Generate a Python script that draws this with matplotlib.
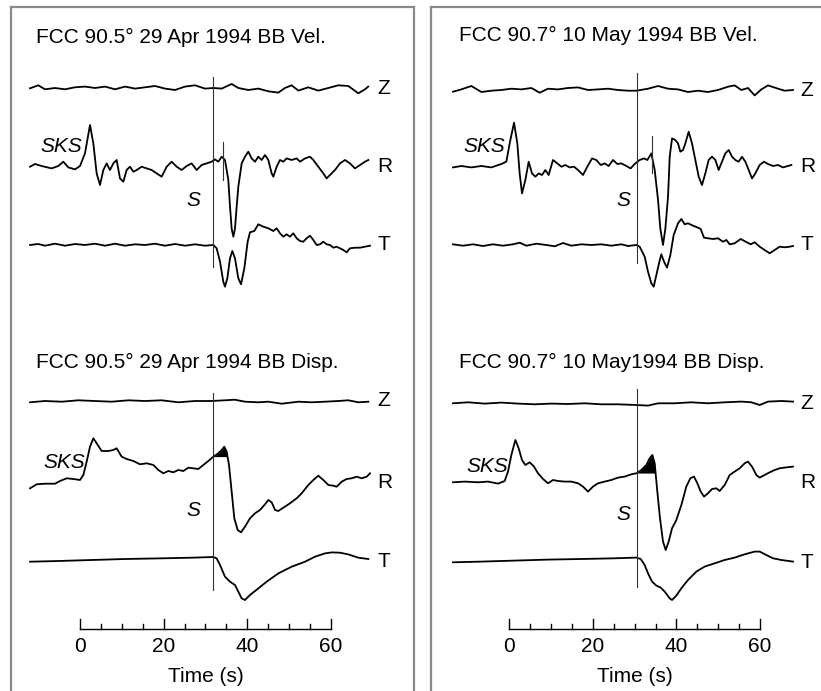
import numpy as np
import matplotlib
matplotlib.use("Agg")
import matplotlib.pyplot as plt

plt.rcParams['font.family'] = ['Liberation Sans', 'DejaVu Sans']

# ---- data: time (s) and amplitude (arbitrary, up = +) ----
# left column, 29 Apr 1994, velocity
lv_z_t = [-11.95, -9.96, -8.37, -5.98, -3.59, -1.2, 1.19, 3.58, 5.98, 8.37, 10.76, 13.15, 15.54,
          17.93, 20.32, 22.71, 25.1, 27.49, 29.88, 31.87, 33.87, 36.26, 37.85, 40.24, 42.63, 45.02,
          47.41, 49.0, 50.6, 52.19, 54.58, 56.97, 59.36, 61.75, 64.14, 66.54, 68.13, 68.9]
lv_z_a = [0, 3, -1, 0.3, -1, 1, 1.7, 0.3, 1.7, -1, 1.7, -0.3, 1, 2.3, -0.3, -1.7, 1.7, 3, -0.3, 0.3,
          -0.3, 4.3, 0.3, -1.7, -0.3, -3, -4.3, 0.3, 3, -2.3, 1, -2.3, 0.3, 3, 2.3, -5, -1, 1.7]
lv_r_t = [-11.95, -10.76, -9.17, -6.78, -5.18, -3.99, -2.79, -1.2, 0.0, 1.19, 2.39, 3.19, 3.98, 4.78,
          5.58, 6.37, 7.17, 7.97, 8.76, 9.56, 10.36, 11.15, 11.95, 12.75, 13.55, 14.74, 15.94, 17.13,
          18.33, 19.52, 20.72, 21.91, 23.11, 24.3, 25.5, 26.69, 27.89, 29.08, 30.28, 31.47, 32.27,
          33.07, 33.87, 34.66, 35.46, 35.86, 36.26, 36.66, 37.05, 37.45, 37.85, 38.65, 39.44, 40.24,
          41.04, 41.83, 42.63, 43.43, 44.22, 45.02, 45.82, 46.22, 47.01, 47.81, 48.61, 49.4, 50.6,
          51.8, 52.59, 53.79, 54.98, 55.78, 56.97, 58.17, 58.97, 59.76, 60.96, 62.15, 63.35, 64.55,
          65.74, 66.94, 68.13, 68.93]
lv_r_a = [0, 2.7, 0.7, -1.7, 0.7, 5, -0.7, -2.7, 0.7, 13.3, 41.7, 23.3, -6.7, -18.3, -3.3, 3.3, -3.3,
          3.3, 6.7, -11.7, -15, -3.3, 0, -5, -3.3, 0, -1.7, -3.3, -6.7, -10, 0, 5, 0, -3.3, 0.7, 3.3,
          -3.3, 1.7, 3.3, 5, 7.3, 5, 10, 6.7, -13.3, -40, -62, -70, -62, -40, -20, 3.3, 10, 15, 8.3,
          5, 10, 6.7, 11.7, 6.7, -6.7, -10, 0, 6.7, 5, 8.3, 6.7, 8.3, 5, 8.3, 10, 6.7, 0, -6.7, -11.7,
          -8.3, -3.3, 3.3, 6.7, 3.3, -1.7, 1.7, 5, 6.7]
lv_t_t = [-11.95, -9.96, -8.37, -5.98, -3.59, -1.2, 1.19, 3.58, 5.98, 8.37, 10.76, 13.15, 15.54,
          17.93, 20.32, 22.71, 25.1, 27.49, 29.88, 31.87, 32.67, 33.47, 34.26, 34.66, 35.22, 35.86,
          36.42, 37.05, 37.85, 38.49, 39.28, 40.08, 40.64, 41.67, 42.63, 43.83, 45.02, 46.22, 47.01,
          47.81, 48.61, 49.4, 50.2, 50.99, 51.8, 52.59, 53.39, 54.18, 54.98, 55.78, 56.58, 57.37,
          58.17, 58.97, 59.76, 60.56, 61.36, 62.15, 62.95, 63.75, 64.55, 65.74, 66.94, 68.13, 69.33]
lv_t_a = [0, 1, -0.7, 1.3, -0.7, 1, 0, 1.3, -0.7, 1.3, -0.7, 0.7, 0, 1.3, -0.7, 1, -0.7, 0.7, -0.7,
          0, -3.3, -16.7, -36.7, -41.7, -33.3, -13.3, -6, -13.3, -33.3, -39.3, -23.3, 3.3, 12.7, 14,
          20.7, 18.3, 16.7, 14, 16.7, 11.7, 8.3, 10.7, 8.3, 11.7, 6.7, 4, 3.3, 6.7, 9.3, 5, 0, 0.7,
          3.3, 0.7, 0, -2.7, -1.7, -3.3, -5, -7.3, -3.3, -2.7, -2.7, -1.7, -0.7]

# left column, displacement
ld_z_t = [-11.95, -8.37, -4.38, -0.4, 3.58, 7.57, 11.55, 15.54, 19.52, 23.51, 27.49, 31.47, 34.66,
          37.05, 39.44, 42.63, 45.02, 48.21, 52.19, 55.38, 58.57, 61.75, 64.14, 66.54, 68.93]
ld_z_a = [-1.3, 0, -0.7, 0.7, 0, -0.7, 0.7, 0, 0.7, -1.3, 0, 0, 0.7, 1.3, -0.7, -1.3, -0.7, -2.7,
          -0.7, -1.3, -0.7, 0, 0.7, -1.3, -0.7]
ld_r_t = [-11.95, -10.36, -8.37, -5.98, -4.78, -3.19, -1.6, 0.0, 0.8, 1.59, 2.39, 3.19, 3.98, 5.18,
          6.77, 7.97, 8.76, 9.96, 11.15, 12.75, 14.34, 15.94, 17.53, 18.72, 19.92, 21.12, 22.31,
          23.51, 24.7, 25.9, 27.09, 28.29, 29.48, 30.68, 31.87, 33.07, 33.87, 34.5, 35.06, 35.62,
          36.26, 36.89, 37.69, 38.49, 39.44, 40.64, 41.83, 43.03, 44.22, 45.02, 45.82, 46.62, 47.41,
          48.61, 50.2, 51.8, 52.99, 54.58, 55.78, 56.97, 58.17, 59.37, 60.56, 61.36, 62.55, 63.75,
          64.94, 66.14, 67.34, 68.53, 69.33]
ld_r_a = [-5.3, -1.3, -0.7, -0.7, 2, 4.7, 4, 3, 8, 21.3, 36.3, 44.7, 39.7, 32, 32, 33, 34.7, 26.3, 24,
          22, 18.7, 19.7, 18, 13, 9.7, 12, 10.7, 13, 12, 15.3, 14.7, 14, 18, 22, 26.3, 29.7, 33,
          36.3, 31.3, 18, -8.7, -35.3, -47, -49.3, -43.7, -35.3, -30.3, -27, -21.3, -17, -19.3, -27,
          -28, -24.7, -20.3, -15.3, -10.3, -2, 3, 7.3, 3, -2, -2.7, -3.7, 1.3, 4, 4.7, 6.3, 4.7, 6.3,
          9.7]
ld_t_t = [-11.95, -5.18, 2.79, 10.76, 18.72, 26.69, 31.87, 32.67, 33.47, 34.66, 35.86, 37.05, 37.85,
          38.65, 39.44, 40.64, 42.63, 44.62, 47.41, 50.6, 53.79, 56.18, 58.57, 60.16, 62.15, 64.14,
          66.54, 68.93]
ld_t_a = [0, 0.7, 1.7, 2.7, 3.3, 4, 4.7, 3.3, -3.3, -15, -20, -23.3, -30, -36.7, -38.3, -33.3, -26.7,
          -20, -11.7, -5, 0, 5, 8.3, 9.3, 9, 7.3, 4, 2.7]

# right column, 10 May 1994, velocity
rv_z_t = [-13.47, -11.48, -9.08, -6.69, -4.3, -1.9, 0.49, 2.88, 5.28, 7.27, 9.27, 11.66, 14.05,
          16.45, 18.84, 21.23, 23.63, 26.02, 28.41, 30.41, 33.2, 35.6, 37.99, 40.38, 42.77, 45.17,
          47.56, 49.95, 52.35, 53.94, 55.54, 57.13, 58.73, 60.33, 61.92, 64.32, 65.91, 67.9]
rv_z_a = [-1, 1.3, 4.7, -1.3, 0, 0.7, 2, 1.3, 2.7, -2, 2, 1.3, 2.7, 3.3, 0.7, 1.3, 2, 0.7, 0, 0, 2,
          4.7, 2, 1.3, -1.3, 0, -1.3, 0.7, 4, 5.3, 0.7, 2.7, -4.7, 1.3, 5.3, 2, 0, 0.7]
rv_r_t = [-13.47, -11.48, -9.08, -6.69, -4.3, -1.9, -0.71, 0.09, 1.13, 1.92, 2.48, 3.04, 3.84, 4.64,
          5.44, 6.23, 7.03, 7.83, 8.63, 9.42, 10.46, 11.5, 12.46, 13.41, 14.45, 15.49, 16.45, 17.64,
          18.68, 19.8, 20.83, 21.87, 22.83, 23.79, 24.82, 25.86, 26.82, 28.01, 29.05, 30.01, 31.2,
          32.24, 33.04, 34.0, 34.8, 35.6, 36.15, 36.79, 37.35, 37.99, 38.39, 38.95, 39.74, 40.38,
          40.94, 41.58, 42.13, 42.93, 43.73, 44.53, 45.33, 46.12, 46.92, 47.72, 48.52, 49.32, 50.11,
          50.91, 51.71, 52.51, 53.31, 54.1, 54.9, 55.7, 56.5, 57.3, 58.09, 58.89, 59.93, 60.96, 61.92,
          63.12, 64.32, 65.51, 66.71, 67.51]
rv_r_a = [-0.7, 0.7, -0.7, 0.7, -0.7, 2.7, 5, 23.3, 44, 23.3, -6.7, -26.7, -13.3, 5, -6.7, -10, -6.7,
          -8.3, -3.3, -8.3, 6.7, 3.3, 0, 1.7, -0.7, 0, -3.3, -8.3, 0, 8.3, 6.7, 1.7, 3.3, 0.7, 6.7,
          2.7, 3.3, 0.7, -1.7, 2.7, 6.7, 8.3, 6.7, 13.3, -3.3, -33.3, -62, -78.3, -62, -30, 10, 28.3,
          26.7, 23.3, 15, 16.7, 23.3, 35, 23.3, 6.7, -10, -18.3, -6.7, 6.7, 10, 6.7, -3.3, 5, 13.3,
          16.7, 10, 6.7, 5, 10, 5, -3.3, -11.7, -6.7, 1.7, 5, 2.7, 0.7, 1.7, -0.7, 0.7, 1.7]
rv_t_t = [-13.47, -11.08, -8.69, -6.29, -3.9, -1.51, 0.89, 2.48, 4.08, 6.47, 8.87, 10.86, 12.86,
          14.85, 17.24, 19.64, 22.03, 24.42, 26.82, 28.41, 30.41, 31.2, 32.4, 33.2, 34.0, 34.56, 35.2,
          35.83, 36.39, 37.03, 37.75, 38.55, 39.34, 40.38, 41.18, 41.98, 42.77, 43.97, 45.17, 45.81,
          46.6, 47.56, 48.76, 49.95, 51.15, 51.95, 52.75, 53.94, 55.38, 56.58, 57.77, 58.73, 59.93,
          61.12, 62.32, 63.52, 64.71, 65.91, 67.11, 67.9]
rv_t_a = [0.7, -0.7, 0.7, -1, 0.7, -0.7, 0.7, 2.3, -0.7, 1.3, 0, -1.3, 2, -0.7, 0.7, 0, 0.7, -0.7,
          0.7, -1, 0, -1.7, -11.7, -26.7, -38.3, -41.7, -30, -18.3, -9.3, -16.7, -22.7, -10, 10, 21.7,
          26, 20.7, 21.7, 19.3, 17.3, 16, 7.3, 6.7, 6, 6.7, 3.3, 5, 0.7, 1.7, 6, 3.3, 0.7, 2.7, -1.7,
          -5, -8.3, -5, -1.7, -2.3, -1.7, -1]

# right column, displacement
rd_z_t = [-13.47, -9.88, -5.89, -1.9, 2.08, 6.07, 10.06, 14.05, 18.04, 22.03, 26.02, 30.41, 33.2,
          35.6, 39.58, 43.57, 47.56, 51.55, 55.54, 57.93, 59.93, 61.92, 65.11, 67.9]
rd_z_a = [0, 1, -0.3, 0.7, -0.3, -1, -0.3, -0.7, 0, -1, -1, -1.7, -2.3, 0, 0, 1, 0, 1, 1.7, 1, -1.7,
          1.7, 2.3, 1.7]
rd_r_t = [-13.47, -10.68, -7.49, -5.1, -2.7, -1.11, -0.31, 0.49, 1.45, 2.24, 3.04, 3.84, 4.88, 5.91,
          6.87, 8.07, 9.27, 10.46, 11.66, 13.25, 14.85, 16.45, 17.64, 18.84, 20.03, 21.23, 22.83,
          24.42, 26.02, 27.62, 29.21, 30.41, 31.6, 32.8, 33.6, 34.24, 34.8, 35.43, 36.07, 36.79,
          37.43, 38.15, 38.95, 39.98, 41.18, 42.37, 43.33, 44.21, 45.01, 45.81, 46.6, 47.56, 48.52,
          49.56, 50.35, 51.55, 52.75, 53.94, 55.14, 56.34, 57.13, 58.09, 59.13, 59.93, 61.12, 62.32,
          63.52, 64.71, 65.91, 67.11, 67.9]
rd_r_a = [0, 0.7, 0, 0.7, -1.3, 1.3, 10.7, 27.3, 42.3, 34, 22.3, 17.3, 20, 15.7, 9, 3.3, -1, 2.3,
          1.3, 0.7, 0.7, -1, -4.3, -9.3, -4.3, -1, 0.7, 2.3, 4.7, 5.7, 8, 9, 12.3, 17.3, 24, 27.3, 19,
          -9.3, -36, -59.3, -67.7, -59.3, -46, -37.7, -22.7, -4.3, 4, 5.7, -1, -9.3, -14.3, -11, -6.7,
          -6, -8.7, -2.7, 7.3, 10.7, 14, 19, 20.7, 15.7, 7.3, 4.7, 7.3, 10, 12.3, 14, 14.7, 15.3, 15.7]
rd_t_t = [-13.47, -6.69, 1.29, 9.27, 17.24, 25.22, 30.41, 31.45, 32.4, 33.2, 34.16, 35.2, 36.23,
          37.19, 38.39, 38.95, 39.98, 41.18, 42.77, 44.77, 46.76, 49.16, 51.55, 53.94, 56.34, 58.73,
          59.93, 61.52, 63.12, 65.11, 67.9]
rd_t_a = [0, 0.7, 1.7, 2.7, 3.3, 4, 4.7, 3.3, -2.7, -11, -19.3, -23.3, -25.3, -29.3, -36, -37.7,
          -33.3, -26, -17.7, -9.3, -4.3, -1, 2.3, 4.7, 8, 10.7, 10.7, 7.3, 4, 2.3, 0.7]

# S arrival picks (s) and titles
s_pick = [31.9, 30.5]
titles_vel = ["FCC 90.5° 29 Apr 1994 BB Vel.", "FCC 90.7° 10 May 1994 BB Vel."]
titles_disp = ["FCC 90.5° 29 Apr 1994 BB Disp.", "FCC 90.7° 10 May1994 BB Disp."]
time_ticks = [0, 20, 40, 60]

H = 691  # figure height in px; y axis works in px from the bottom
FS = 15


def y(px):
    return H - px


def draw_column(ax, vel, disp, ts, title_v, title_d, xr, geo):
    # geo holds pixel rows for this column
    for (t, a), base in zip(vel, geo["vel_base"]):
        ax.plot(t, y(base) + np.array(a), color="black", lw=1.3, solid_joinstyle="round")
    for (t, a), base in zip(disp, geo["disp_base"]):
        ax.plot(t, y(base) + np.array(a), color="black", lw=1.3, solid_joinstyle="round")

    # filled S onset on displacement R
    t_r = np.array(disp[1][0])
    a_r = np.array(disp[1][1])
    lev = np.interp(ts, t_r, a_r)
    b = y(geo["disp_base"][1])
    ax.fill_between(t_r, b + a_r, b + lev, where=(t_r >= ts - 0.3) & (a_r >= lev) & (t_r < 36),
                    interpolate=True, color="black", lw=0)

    # S pick lines
    ax.plot([ts, ts], [y(geo["vline_v"][0]), y(geo["vline_v"][1])], color="#333333", lw=0.8)
    ax.plot([ts, ts], [y(geo["vline_d"][0]), y(geo["vline_d"][1])], color="#333333", lw=0.8)
    ax.plot([geo["tick_t"], geo["tick_t"]], [y(geo["tick_y"][0]), y(geo["tick_y"][1])],
            color="#333333", lw=0.8)

    # component labels
    for base, lab in zip(geo["vel_base"], "ZRT"):
        ax.text(xr, y(base), lab, fontsize=FS, ha="left", va="center")
    for base, lab in zip(geo["disp_base"], "ZRT"):
        ax.text(xr, y(base), lab, fontsize=FS, ha="left", va="center")

    ax.text(geo["title_t"], y(geo["title_y"][0]), title_v, fontsize=FS, ha="left", va="center")
    ax.text(geo["title_t"], y(geo["title_y"][1]), title_d, fontsize=FS, ha="left", va="center")

    for (tx, py) in geo["sks"]:
        ax.text(tx, y(py), "SKS", fontsize=FS, style="italic", ha="right", va="center")
    for (tx, py) in geo["s"]:
        ax.text(tx, y(py), "S", fontsize=FS, style="italic", ha="center", va="center")

    # time scale bar
    ya = y(629)
    ax.plot([0, 60], [ya, ya], color="black", lw=1.0)
    for tk in range(0, 61, 5):
        top = y(619) if tk in time_ticks else y(624)
        ax.plot([tk, tk], [ya, top], color="black", lw=1.0)
    for tk in time_ticks:
        ax.text(tk, y(647), str(tk), fontsize=FS, ha="center", va="center")
    ax.text(30, y(676), "Time (s)", fontsize=FS, ha="center", va="center")


fig = plt.figure(figsize=(8.21, 6.91), dpi=100)

frame = "#8a8a8a"
axl = fig.add_axes([11 / 821, 0, (414 - 11) / 821, (H - 7) / H])
axl.set_xlim((11 - 80) / 4.183, (414 - 80) / 4.183)
axr = fig.add_axes([431 / 821, 0, (821 - 431) / 821, (H - 7) / H])
axr.set_xlim((431 - 509.3) / 4.178, (821 - 509.3) / 4.178)
for ax in (axl, axr):
    ax.set_ylim(0, H - 7)
    ax.set_xticks([])
    ax.set_yticks([])
    ax.spines["bottom"].set_visible(False)
    for s in ("left", "right", "top"):
        ax.spines[s].set_color(frame)
        ax.spines[s].set_linewidth(1.6)
axr.spines["right"].set_visible(False)

geo_l = dict(vel_base=[88.3, 166.7, 245], disp_base=[401, 483, 561.7],
             vline_v=(77, 267), vline_d=(393, 590), tick_t=34.1, tick_y=(142, 180),
             title_t=(36 - 80) / 4.183, title_y=(37, 362),
             sks=[(0.5, 147), (1.2, 462)], s=[(27.0, 200), (27.0, 510)])
geo_r = dict(vel_base=[90.7, 166.7, 245], disp_base=[403.3, 482.3, 562.3],
             vline_v=(73, 263), vline_d=(389, 587), tick_t=34.2, tick_y=(136, 173),
             title_t=(459 - 509.3) / 4.178, title_y=(35, 362),
             sks=[(-1.0, 147), (-0.3, 467)], s=[(27.2, 200), (27.2, 515)])

draw_column(axl,
            [(lv_z_t, lv_z_a), (lv_r_t, lv_r_a), (lv_t_t, lv_t_a)],
            [(ld_z_t, ld_z_a), (ld_r_t, ld_r_a), (ld_t_t, ld_t_a)],
            s_pick[0], titles_vel[0], titles_disp[0], (377 - 80) / 4.183, geo_l)
draw_column(axr,
            [(rv_z_t, rv_z_a), (rv_r_t, rv_r_a), (rv_t_t, rv_t_a)],
            [(rd_z_t, rd_z_a), (rd_r_t, rd_r_a), (rd_t_t, rd_t_a)],
            s_pick[1], titles_vel[1], titles_disp[1], (800 - 509.3) / 4.178, geo_r)

fig.savefig("out.png", dpi=100)
